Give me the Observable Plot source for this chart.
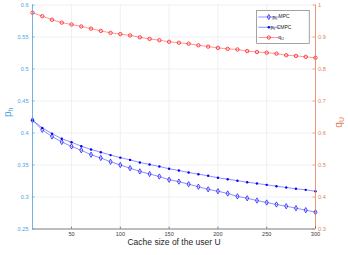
<!DOCTYPE html>
<html><head><meta charset="utf-8">
<script src="https://cdn.jsdelivr.net/npm/d3@7"></script>
<script src="https://cdn.jsdelivr.net/npm/@observablehq/plot@0.6"></script>
<style>body{margin:0;background:#fff}</style>
</head><body><div id="chart"></div>
<script>
const cacheSize = [10,20,30,40,50,60,70,80,90,100,110,120,130,140,150,160,170,180,190,200,210,220,230,240,250,260,270,280,290,300];
const phMPC = [0.420,0.405,0.3945,0.386,0.379,0.373,0.366,0.361,0.355,0.350,0.345,0.340,0.336,0.332,0.327,0.324,0.320,0.316,0.312,0.309,0.3055,0.301,0.298,0.2945,0.2914,0.2883,0.2856,0.2825,0.2794,0.2763];
const phCMPC = [0.420,0.408,0.399,0.391,0.3856,0.3794,0.3742,0.370,0.3655,0.3615,0.358,0.354,0.3508,0.3477,0.3441,0.3414,0.3383,0.3356,0.3331,0.330,0.3278,0.3255,0.3231,0.3211,0.319,0.3169,0.3148,0.3128,0.3112,0.309];
const qU = [0.976,0.965,0.954,0.945,0.939,0.933,0.926,0.919,0.913,0.909,0.905,0.899,0.894,0.890,0.885,0.882,0.879,0.874,0.870,0.866,0.863,0.861,0.856,0.853,0.851,0.848,0.843,0.841,0.838,0.835];
const xTicks = [50,100,150,200,250,300];
const leftTicks = [0.25,0.3,0.35,0.4,0.45,0.5,0.55,0.6];
const rightTicks = [0.3,0.4,0.5,0.6,0.7,0.8,0.9,1];
const xLabel = "Cache size of the user U";
const leftLabel = "p_h";
const rightLabel = "q_U";
const legendLabels = ["p_h MPC", "p_h CMPC", "q_U"];

const leftColor = "#4f9fdc";
const rightColor = "#e47f57";
const gridColor = "#e4e8ed";
const font = '"Liberation Sans", Arial, Helvetica, sans-serif';
const toLeft = q => 0.25 + (q - 0.3) * 0.5;
const fromLeft = y => 0.3 + (y - 0.25) * 2;
const fmt = v => String(+v.toFixed(2));

const rows = cacheSize.map((x, i) => ({x, mpc: phMPC[i], cmpc: phCMPC[i], q: qU[i]}));

const svg = Plot.plot({
  width: 348, height: 255,
  marginTop: 4.5, marginBottom: 26.5, marginLeft: 32, marginRight: 33,
  style: {fontFamily: font, fontSize: "5.6px", background: "#fff", overflow: "visible"},
  x: {domain: [10, 300]},
  y: {domain: [0.25, 0.6]},
  marks: [
    Plot.gridX(xTicks, {stroke: gridColor, strokeOpacity: 1, strokeWidth: 0.6}),
    Plot.gridY(leftTicks, {stroke: gridColor, strokeOpacity: 1, strokeWidth: 0.6}),
    Plot.line(rows, {x: "x", y: "mpc", stroke: "#2020ff", strokeWidth: 0.5}),
    Plot.dot(rows, {x: "x", y: "mpc", symbol: "diamond", r: 1.6, stroke: "#0000ff", strokeWidth: 0.7, fill: "none"}),
    Plot.line(rows, {x: "x", y: "cmpc", stroke: "#2020ff", strokeWidth: 0.5}),
    Plot.dot(rows, {x: "x", y: "cmpc", r: 1.2, fill: "#0000ff", stroke: "none"}),
    Plot.line(rows, {x: "x", y: d => toLeft(d.q), stroke: "#ff3030", strokeWidth: 0.5}),
    Plot.dot(rows, {x: "x", y: d => toLeft(d.q), r: 1.7, stroke: "#ff0000", strokeWidth: 0.7, fill: "none"}),
    Plot.ruleX([10], {stroke: leftColor, strokeWidth: 0.8}),
    Plot.ruleX([300], {stroke: rightColor, strokeWidth: 0.8}),
    Plot.ruleY([0.25], {stroke: "#333", strokeWidth: 0.6}),
    Plot.ruleX(xTicks, {x: d => d, y1: 0.25, y2: 0.253, stroke: "#333", strokeWidth: 0.6}),
    Plot.ruleY(leftTicks, {y: d => d, x1: 10, x2: 12.6, stroke: leftColor, strokeWidth: 0.6}),
    Plot.ruleY(rightTicks.map(toLeft), {y: d => d, x1: 297.4, x2: 300, stroke: rightColor, strokeWidth: 0.6}),
    Plot.axisX(xTicks, {tickSize: 0, tickPadding: 3.5, color: "#404040", label: null}),
    Plot.axisY(leftTicks, {anchor: "left", tickSize: 0, tickPadding: 4, color: leftColor, tickFormat: fmt, label: null}),
    Plot.axisY(rightTicks.map(toLeft), {anchor: "right", tickSize: 0, tickPadding: 2.5, color: rightColor, tickFormat: d => fmt(fromLeft(d)), label: null}),
    Plot.text([xLabel], {text: d => d, frameAnchor: "bottom", dy: 16.3, fontSize: 8.5, fill: "#262626"}),
    Plot.text([leftLabel], {text: d => d, frameAnchor: "left", dx: -25, rotate: -90, fontSize: 10, fill: leftColor}),
    Plot.text([rightLabel], {text: d => d, frameAnchor: "right", dx: 23, rotate: -90, fontSize: 10, fill: rightColor})
  ]
});

// legend
const lg = d3.select(svg).append("g").attr("font-family", font).attr("font-size", "5px");
lg.append("rect").attr("x", 256.7).attr("y", 10.3).attr("width", 52.5).attr("height", 33)
  .attr("fill", "#fff").attr("stroke", "#666").attr("stroke-width", 0.6);
const items = [
  {label: legendLabels[0], line: "#2020ff", sym: d3.symbolDiamond, size: 7.5, fill: "none", stroke: "#0000ff"},
  {label: legendLabels[1], line: "#2020ff", sym: d3.symbolCircle, size: 4.5, fill: "#0000ff", stroke: "none"},
  {label: legendLabels[2], line: "#ff3030", sym: d3.symbolCircle, size: 9, fill: "none", stroke: "#ff0000"}
];
items.forEach((it, i) => {
  const yy = 17 + i * 10.25;
  lg.append("line").attr("x1", 258.3).attr("x2", 279.3).attr("y1", yy).attr("y2", yy)
    .attr("stroke", it.line).attr("stroke-width", 0.5);
  lg.append("path").attr("d", d3.symbol().type(it.sym).size(it.size)()).attr("transform", `translate(268.8,${yy})`)
    .attr("fill", it.fill).attr("stroke", it.stroke).attr("stroke-width", 0.7);
  lg.append("text").attr("x", 281).attr("y", yy).attr("dy", "0.35em").attr("fill", "#222").text(it.label);
});

// subscripts
d3.select(svg).selectAll("text").each(function() {
  if (this.querySelector("tspan")) return;
  const s = this.textContent;
  const m = s.match(/^(.*?)_(\w)(.*)$/);
  if (!m) return;
  this.textContent = "";
  const el = d3.select(this);
  el.append("tspan").text(m[1]);
  el.append("tspan").attr("dy", "0.3em").attr("font-size", "70%").text(m[2]);
  if (m[3]) el.append("tspan").attr("dy", "-0.3em").text(m[3].replace(/^ /, "\u00a0"));
});

document.getElementById("chart").appendChild(svg);
</script>
</body></html>
